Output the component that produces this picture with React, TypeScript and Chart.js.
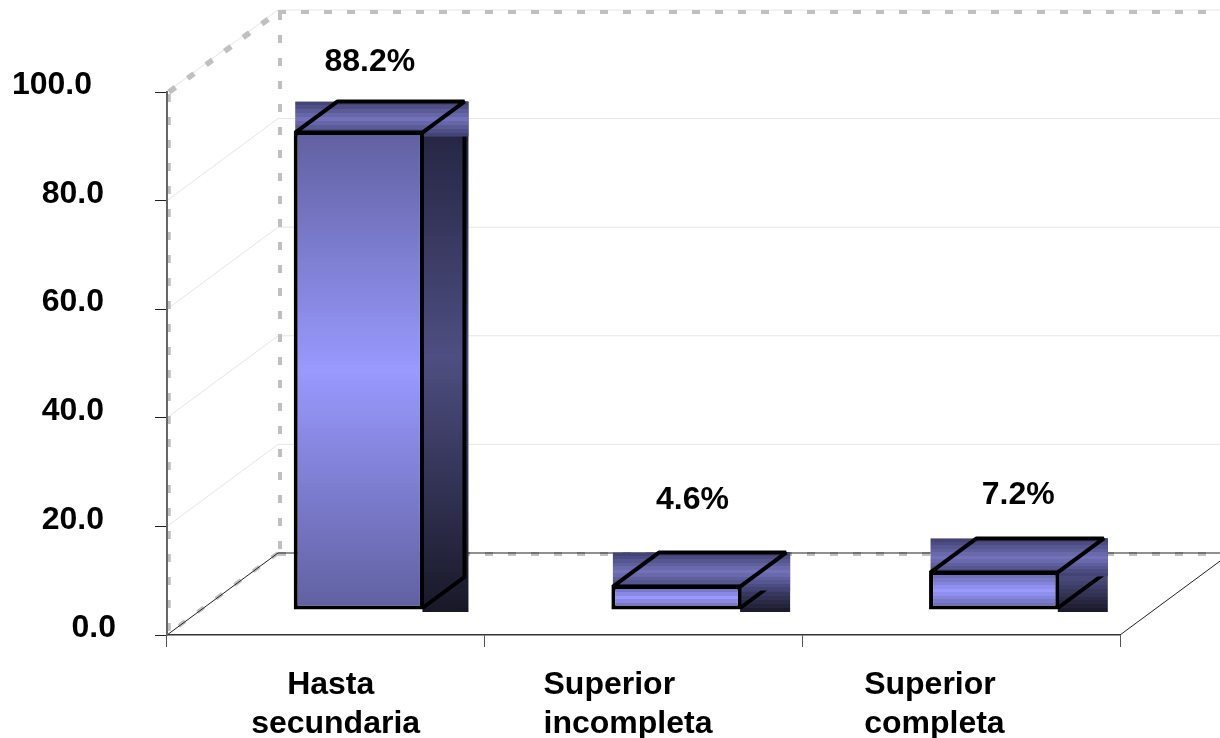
import React, { useEffect, useRef } from "react";
import { Chart, registerables } from "chart.js";

Chart.register(...registerables);

const categories = [["Hasta", "secundaria"], ["Superior", "incompleta"], ["Superior", "completa"]];
const values = [88.2, 4.6, 7.2];
const axisMax = 100;
const axisStep = 20;

const FONT = '"Liberation Sans", Arial, sans-serif';
const TEXT_SIZE = 32;
const WALL = { dx: 111, dy: -82 };
const BAR_SHIFT = { dx: 33, dy: -25 };
const BAR_DEPTH = [{ dx: 42, dy: -31 }, { dx: 46, dy: -34 }, { dx: 46, dy: -34 }];
const VALUE_LABEL = [{ dx: 44, dy: -94 }, { dx: 49, dy: -110 }, { dx: 57, dy: -101 }];
const CAT_LABEL_X = [[-38.7, -74.7], [-100, -100], [-97, -97]];
const CAT_LINE_Y = [694, 733];
const TICK_LABEL_RIGHT = [-51, -63, -63, -63, -63, -75];
const TICK_LABEL_BASELINE = 2.2;

function banded(ctx: any, y0: number, y1: number, edge: number[], mid: number[], end?: number[]) {
  const g = ctx.createLinearGradient(0, y0, 0, y1);
  const last = end || edge;
  const n = Math.max(3, Math.round(Math.abs(y1 - y0) / 4) | 1);
  const mix = (a: number[], b: number[], t: number) =>
    `rgb(${a.map((v, k) => Math.round(v + (b[k] - v) * t)).join(",")})`;
  for (let i = 0; i < n; i++) {
    const t = (i + 0.5) / n;
    const c = t < 0.5 ? mix(edge, mid, t * 2) : mix(mid, last, (t - 0.5) * 2);
    g.addColorStop(i / n, c);
    g.addColorStop((i + 1) / n, c);
  }
  return g;
}

const FRONT_EDGE = [96, 96, 160];
const FRONT_MID = [153, 153, 255];
const TOP_EDGE = [62, 62, 110];
const TOP_MID = [114, 114, 186];
const SIDE_EDGE = [32, 32, 58];
const SIDE_MID = [78, 78, 130];
const SIDE_END = [24, 24, 40];

const wallPlugin = {
  id: "wall",
  beforeDraw(chart: any) {
    const { ctx, scales } = chart;
    const y = scales.y;
    const x = scales.x;
    const w = chart.width;
    const y0 = y.getPixelForValue(0);
    const yMax = y.getPixelForValue(axisMax);
    const left = x.left;
    const right = x.right;
    ctx.save();
    ctx.fillStyle = "#fff";
    ctx.fillRect(0, 0, chart.width, chart.height);
    // gridlines on the side and back walls
    ctx.strokeStyle = "#e6e6e6";
    ctx.lineWidth = 1;
    for (let v = axisStep; v <= axisMax; v += axisStep) {
      const py = y.getPixelForValue(v);
      ctx.beginPath();
      ctx.moveTo(left, py);
      ctx.lineTo(left + WALL.dx, py + WALL.dy);
      ctx.lineTo(w, py + WALL.dy);
      ctx.stroke();
    }
    // dashed wall outline
    ctx.strokeStyle = "#c0c0c0";
    ctx.setLineDash([8, 15]);
    ctx.lineWidth = 3.5;
    ctx.beginPath();
    ctx.moveTo(left + 2, y0 - 4);
    ctx.lineTo(left + 2, yMax);
    ctx.stroke();
    ctx.lineWidth = 5.5;
    ctx.beginPath();
    ctx.moveTo(left + 2, yMax);
    ctx.lineTo(left + WALL.dx, yMax + WALL.dy + 2);
    ctx.stroke();
    ctx.lineWidth = 4;
    ctx.beginPath();
    ctx.moveTo(left + WALL.dx, yMax + WALL.dy + 2);
    ctx.lineTo(w, yMax + WALL.dy + 2);
    ctx.moveTo(left + WALL.dx + 2, yMax + WALL.dy + 2);
    ctx.lineTo(left + WALL.dx + 2, y0 + WALL.dy);
    ctx.moveTo(left + WALL.dx, y0 + WALL.dy + 1);
    ctx.lineTo(w, y0 + WALL.dy + 1);
    ctx.moveTo(left + WALL.dx, y0 + WALL.dy);
    ctx.lineTo(left + 2, y0 - 2);
    ctx.stroke();
    ctx.setLineDash([]);
    // floor outline
    ctx.strokeStyle = "#222";
    ctx.lineWidth = 1;
    ctx.beginPath();
    ctx.moveTo(left, y0);
    ctx.lineTo(left + WALL.dx, y0 + WALL.dy);
    ctx.lineTo(w, y0 + WALL.dy);
    ctx.moveTo(right, y0);
    ctx.lineTo(right + WALL.dx, y0 + WALL.dy);
    ctx.stroke();
    ctx.restore();
  },
  beforeDatasetsDraw(chart: any) {
    const { ctx } = chart;
    const bars = chart.getDatasetMeta(0).data;
    bars.forEach((bar: any, i: number) => {
      const half = bar.width / 2;
      const l = bar.x - half + BAR_SHIFT.dx + 1.5;
      const r = bar.x + half + BAR_SHIFT.dx - 1.5;
      const t = bar.y + BAR_SHIFT.dy + 1.5;
      const b = bar.base + BAR_SHIFT.dy - 1.5;
      const { dx, dy } = BAR_DEPTH[i];
      const rectR = r + dx + 4;
      ctx.save();
      // side face
      ctx.fillStyle = banded(ctx, t + dy, b + 4, SIDE_EDGE, SIDE_MID, SIDE_END);
      ctx.fillRect(r, t + dy, rectR - r, b + 4 - (t + dy));
      ctx.strokeStyle = "#000";
      ctx.lineWidth = 4;
      ctx.lineJoin = "miter";
      ctx.beginPath();
      ctx.moveTo(r + dx, t + dy);
      ctx.lineTo(r + dx, b + dy);
      ctx.lineTo(r, b);
      ctx.stroke();
      // top face
      ctx.fillStyle = banded(ctx, t + dy, t + 4, TOP_EDGE, TOP_MID);
      ctx.fillRect(l, t + dy, rectR - l, t + 4 - (t + dy));
      ctx.lineJoin = "bevel";
      ctx.beginPath();
      ctx.moveTo(l, t);
      ctx.lineTo(l + dx, t + dy);
      ctx.lineTo(r + dx, t + dy);
      ctx.lineTo(r, t);
      ctx.closePath();
      ctx.stroke();
      ctx.restore();
    });
  },
  beforeDatasetDraw(chart: any) {
    chart.ctx.save();
    chart.ctx.translate(BAR_SHIFT.dx, BAR_SHIFT.dy);
  },
  afterDatasetDraw(chart: any) {
    chart.ctx.restore();
  },
  afterDraw(chart: any) {
    const { ctx, scales } = chart;
    const x = scales.x;
    const y = scales.y;
    const bars = chart.getDatasetMeta(0).data;
    ctx.save();
    ctx.fillStyle = "#000";
    ctx.font = `bold ${TEXT_SIZE}px ${FONT}`;
    ctx.textAlign = "center";
    ctx.textBaseline = "middle";
    bars.forEach((bar: any, i: number) => {
      ctx.fillText(`${values[i].toFixed(1)}%`, bar.x + VALUE_LABEL[i].dx, bar.y + VALUE_LABEL[i].dy);
    });
    ctx.textAlign = "left";
    ctx.textBaseline = "alphabetic";
    categories.forEach((lines, i) => {
      const px = x.getPixelForValue(i);
      lines.forEach((line, k) => ctx.fillText(line, px + CAT_LABEL_X[i][k], CAT_LINE_Y[k]));
    });
    ctx.textAlign = "right";
    y.ticks.forEach((tick: any, i: number) => {
      ctx.fillText(
        Number(tick.value).toFixed(1),
        y.right + TICK_LABEL_RIGHT[i],
        y.getPixelForValue(tick.value) + TICK_LABEL_BASELINE
      );
    });
    ctx.restore();
  },
};

export default function App() {
  const ref = useRef<HTMLCanvasElement>(null);
  useEffect(() => {
    const chart = new Chart(ref.current as HTMLCanvasElement, {
      type: "bar",
      data: {
        labels: categories,
        datasets: [
          {
            data: values,
            clip: false,
            barPercentage: 0.41,
            categoryPercentage: 1,
            borderColor: "#000",
            borderWidth: 4,
            borderSkipped: false,
            backgroundColor: (c: any) => {
              const s = c.chart.scales.y;
              const v = c.parsed ? c.parsed.y : NaN;
              const top = s ? s.getPixelForValue(v) : NaN;
              const bottom = s ? s.getPixelForValue(0) : NaN;
              if (!Number.isFinite(top) || !Number.isFinite(bottom)) return "#9999ff";
              return banded(c.chart.ctx, top, bottom, FRONT_EDGE, FRONT_MID);
            },
          },
        ],
      } as any,
      options: {
        responsive: false,
        animation: false,
        events: [],
        layout: { padding: { top: 92, right: 100, left: 0, bottom: 0 } },
        plugins: { legend: { display: false }, tooltip: { enabled: false }, title: { display: false } },
        scales: {
          x: {
            afterFit: (s: any) => {
              s.height = 103;
            },
            border: { color: "#333", width: 1.5 },
            grid: { drawOnChartArea: false, tickLength: 12, tickColor: "#555" },
            ticks: { display: false, maxRotation: 0, autoSkip: false },
          },
          y: {
            min: 0,
            max: axisMax,
            afterFit: (s: any) => {
              s.width = 167;
            },
            border: { color: "#666", width: 2 },
            grid: { drawOnChartArea: false, tickLength: 12, tickColor: "#222" },
            ticks: { display: false, stepSize: axisStep },
          },
        },
      },
      plugins: [wallPlugin],
    } as any);
    return () => chart.destroy();
  }, []);
  return (
    <canvas
      ref={ref}
      width={1220}
      height={738}
      style={{ position: "absolute", left: 0, top: 0, display: "block" }}
    />
  );
}
